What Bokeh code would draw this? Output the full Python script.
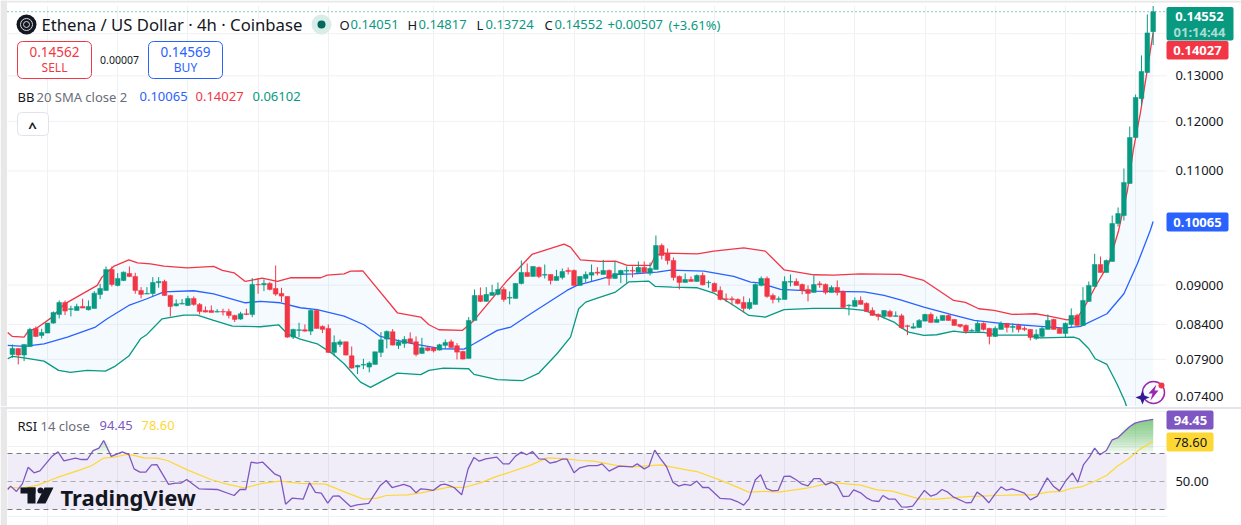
from bokeh.plotting import figure
from bokeh.layouts import column
from bokeh.core.properties import value
from bokeh.models import (Range1d, FixedTicker, Label, BoxAnnotation, PolyAnnotation)
from bokeh.embed import file_html
from bokeh.resources import INLINE

opens = [.07968,.08052,.07959,.08080,.08340,.08238,.08272,.08419,.08548,.08730,
.08624,.08608,.08669,.08619,.08639,.08854,.08916,.09251,.08995,.09074,
.09186,.09138,.08916,.08859,.08869,.09037,.09058,.08838,.08679,.08705,
.08684,.08792,.08700,.08608,.08608,.08583,.08593,.08593,.08533,.08478,
.08558,.08548,.09010,.09005,.09026,.08947,.08869,.08823,.08214,.08311,
.08321,.08301,.08608,.08370,.08340,.07996,.08109,.08147,.07949,.07793,
.07820,.07793,.07829,.07996,.08185,.08292,.08095,.08123,.08190,.08147,
.07982,.08061,.08061,.08029,.08095,.08147,.08090,.08010,.07912,.08458,
.08838,.08746,.08838,.08854,.08932,.08797,.08792,.09026,.09202,.09138,
.09283,.09159,.09170,.09074,.09122,.09235,.09235,.08995,.09106,.09159,
.09207,.09170,.09235,.09106,.09170,.09224,.09235,.09202,.09283,.09191,
.09251,.09649,.09514,.09398,.09138,.09042,.09090,.09058,.09154,.09037,
.09026,.08916,.08787,.08787,.08776,.08730,.08639,.08700,.08995,.09106,
.08838,.08776,.08776,.09047,.09058,.09010,.08932,.08885,.09021,.09010,
.08885,.08963,.08900,.08679,.08669,.08761,.08715,.08608,.08548,.08518,
.08593,.08518,.08528,.08379,.08345,.08355,.08448,.08548,.08429,.08458,
.08533,.08473,.08399,.08384,.08301,.08296,.08414,.08340,.08224,.08326,
.08414,.08355,.08384,.08340,.08326,.08195,.08224,.08326,.08473,.08340,
.08267,.08399,.08533,.08384,.08746,.08979,.09332,.09202,.09382,.10029,
.10171,.10760,.11666,.12493,.13078,.14051]
highs = [.08109,.08052,.08109,.08350,.08370,.08335,.08419,.08593,.08761,.08761,
.08679,.08710,.08787,.08761,.08905,.09021,.09300,.09300,.09191,.09218,
.09300,.09197,.08968,.08968,.09127,.09127,.09085,.08849,.08776,.08782,
.08833,.08823,.08720,.08669,.08684,.08629,.08634,.08634,.08543,.08588,
.08634,.09111,.09111,.09090,.09047,.09316,.08958,.08823,.08335,.08424,
.08399,.08629,.08619,.08384,.08399,.08238,.08180,.08147,.08080,.07824,
.07907,.07870,.08005,.08287,.08311,.08331,.08180,.08228,.08282,.08224,
.08204,.08085,.08075,.08118,.08180,.08180,.08128,.08019,.08508,.08932,
.08963,.08968,.09005,.09042,.08968,.08900,.09026,.09398,.09349,.09300,
.09300,.09332,.09170,.09245,.09267,.09283,.09251,.09138,.09218,.09332,
.09289,.09409,.09251,.09382,.09245,.09300,.09300,.09382,.09382,.09365,
.09820,.09683,.09598,.09448,.09154,.09186,.09138,.09170,.09202,.09074,
.09042,.08979,.08869,.08823,.08792,.08823,.08792,.09026,.09138,.09138,
.08869,.08823,.09138,.09170,.09106,.09026,.08995,.09154,.09063,.09026,
.08995,.09074,.08916,.08700,.08807,.08823,.08730,.08654,.08563,.08608,
.08619,.08593,.08558,.08394,.08419,.08478,.08558,.08578,.08518,.08533,
.08548,.08473,.08399,.08399,.08335,.08458,.08429,.08350,.08370,.08444,
.08414,.08414,.08409,.08370,.08326,.08326,.08370,.08548,.08483,.08355,
.08429,.08639,.08558,.08968,.09058,.09509,.09464,.09415,.10171,.10316,
.11047,.11894,.12581,.13475,.14480,.14817]
lows = [.07921,.07829,.07875,.08071,.08214,.08195,.08272,.08409,.08488,.08538,
.08518,.08608,.08644,.08608,.08639,.08782,.08916,.08979,.08979,.09063,
.09127,.08864,.08792,.08859,.08823,.08958,.08833,.08518,.08669,.08700,
.08679,.08679,.08548,.08578,.08578,.08578,.08533,.08488,.08434,.08468,
.08538,.08508,.08864,.08905,.08916,.08833,.08735,.08204,.08185,.08214,
.08292,.08243,.08340,.08272,.07987,.07940,.08071,.07954,.07770,.07698,
.07765,.07720,.07829,.07931,.08052,.08095,.08043,.08061,.08118,.07940,
.07977,.08010,.07996,.08024,.08048,.08061,.07898,.07898,.07912,.08458,
.08735,.08746,.08838,.08838,.08741,.08700,.08792,.09010,.09138,.09138,
.09111,.09106,.09010,.09074,.09090,.09170,.08990,.08995,.09042,.09063,
.09154,.09170,.08995,.09106,.09031,.09037,.09122,.09202,.09202,.09154,
.09251,.09415,.09332,.09074,.08932,.09042,.09058,.09058,.08995,.08958,
.08895,.08761,.08735,.08689,.08700,.08578,.08619,.08700,.08979,.08802,
.08715,.08730,.08776,.08979,.08995,.08854,.08746,.08885,.08958,.08854,
.08885,.08838,.08639,.08533,.08669,.08700,.08583,.08528,.08458,.08488,
.08503,.08518,.08335,.08243,.08335,.08350,.08448,.08424,.08429,.08458,
.08453,.08379,.08350,.08262,.08296,.08292,.08311,.08109,.08214,.08326,
.08282,.08282,.08282,.08301,.08166,.08175,.08204,.08326,.08326,.08267,
.08214,.08360,.08384,.08384,.08741,.08979,.09202,.09202,.09382,.09977,
.10082,.10760,.11666,.12341,.13078,.13724]
closes = [.08052,.07959,.08109,.08326,.08224,.08282,.08419,.08578,.08730,.08598,
.08634,.08669,.08644,.08669,.08874,.08947,.09251,.09010,.09106,.09207,
.09138,.08916,.08854,.08869,.09042,.09058,.08838,.08669,.08710,.08715,
.08792,.08700,.08593,.08583,.08578,.08593,.08583,.08533,.08473,.08558,
.08548,.09010,.09005,.09026,.08932,.08859,.08828,.08214,.08326,.08321,
.08301,.08608,.08340,.08326,.07996,.08137,.08147,.07959,.07779,.07815,
.07829,.07848,.08005,.08175,.08296,.08100,.08147,.08180,.08132,.07968,
.08061,.08024,.08019,.08104,.08137,.08066,.08000,.07903,.08458,.08838,
.08746,.08854,.08885,.08932,.08776,.08807,.09026,.09202,.09138,.09300,
.09138,.09170,.09074,.09138,.09218,.09218,.08995,.09138,.09170,.09202,
.09191,.09235,.09106,.09186,.09235,.09235,.09224,.09283,.09202,.09267,
.09649,.09481,.09398,.09122,.09042,.09090,.09058,.09154,.09005,.09042,
.08900,.08776,.08776,.08771,.08715,.08639,.08730,.09010,.09106,.08823,
.08776,.08787,.09058,.09058,.08995,.08916,.08869,.09010,.09005,.08885,
.08963,.08885,.08654,.08689,.08761,.08700,.08593,.08533,.08518,.08608,
.08518,.08528,.08350,.08370,.08365,.08458,.08548,.08429,.08473,.08533,
.08458,.08384,.08370,.08296,.08311,.08414,.08326,.08224,.08340,.08414,
.08355,.08370,.08326,.08326,.08209,.08253,.08340,.08458,.08326,.08267,
.08414,.08533,.08384,.08761,.08995,.09332,.09202,.09398,.10029,.10207,
.10779,.11666,.12516,.13100,.14020,.14552]

upper_x = [-.8,0,2,2.8,4,6.8,8.8,14.5,15.3,17.3,19.9,21.4,23.6,25.9,29.9,34.4,35.9,37.9,39.8,42.7,45.3,47.5,49.2,
52.7,53.8,56.7,57.8,59.9,65.8,69.8,71.2,72.9,76.9,78.9,84.6,88.8,94.3,95.4,97.1,100.5,
103.1,105.1,109.1,109.9,111.3,117.1,119.9,125,128.7,131.9,137,140.4,144.9,151.8,
155.8,160.9,162.9,165.2,167.8,170.9,174.9,177.4,180.3,182,183.1,185.4,187.4,189.1,190.6,191.6,192.8,193.9,195]
upper_y = [.08282,.08224,.08214,.08311,.08335,.08508,.08700,.08995,.09127,.09300,.09409,.09360,.09343,.09305,.09278,.09300,.09235,.09197,.09058,.09111,.09058,.09117,.09117,
.09117,.09159,.09181,.09224,.09229,.08573,.08508,.08394,.08321,.08311,.08458,.09074,.09498,.09672,.09620,.09409,.09382,
.09387,.09316,.09316,.09481,.09520,.09509,.09554,.09609,.09554,.09245,.09165,.09159,.09181,.09170,
.09074,.08761,.08730,.08634,.08608,.08548,.08558,.08518,.08468,.08498,.08634,.09021,.09343,.09907,.10628,.11403,.12169,.13055,.14027]
basis_x = [-.8,2,5.4,9.4,14.2,16.2,19.9,23,25.9,31,34.4,39.8,42.4,45.8,49.2,
52.1,56.7,60.1,62.9,65.8,68.6,73.2,77.2,78.9,82.9,85.2,88.6,94.8,96.5,100.5,
103.4,106.2,110.2,112.5,118.2,123.3,126.2,127.6,131.3,137,145.6,149,151.8,
155.8,160.4,164.4,169,174.6,179.7,182.6,187.1,190,192.3,194.5,195]
basis_y = [.08095,.08080,.08118,.08214,.08360,.08483,.08684,.08787,.08895,.08911,.08864,.08725,.08746,.08725,.08649,
.08619,.08523,.08394,.08224,.08166,.08118,.08048,.08043,.08118,.08311,.08360,.08558,.08916,.08995,.09095,
.09170,.09181,.09207,.09240,.09224,.09138,.09047,.09037,.08932,.08905,.08895,.08838,.08771,
.08659,.08548,.08458,.08414,.08379,.08345,.08370,.08558,.08864,.09343,.09907,.10065]
lower_x = [-.8,0,2,5.4,7.9,9.9,12.8,15.9,17.6,19.9,21.9,23,25.6,29.3,31.6,34.4,37.6,42.4,45.5,47,49.2,
52.1,54.9,56.7,59.5,61.2,65.8,69.8,71.2,73.7,78,78.9,82.9,87.2,90,93.1,95.4,96.8,98,100.5,
103.1,105.4,108.8,109.9,112.8,117.1,119.9,123.3,125.9,128.7,131.9,137,142.1,145.6,148.4,150.7,151.8,
153.2,155.8,158,160.9,162.6,166,168.3,173.5,175.7,181.4,182.3,184,185.1,187.1,188.8,190.1,190.5,195]
lower_y = [.07907,.07940,.07921,.07875,.07747,.07720,.07747,.07738,.07806,.07945,.08190,.08253,.08483,.08538,.08538,.08458,.08375,.08365,.08394,.08262,.08185,
.08118,.07968,.07838,.07590,.07520,.07711,.07689,.07747,.07779,.07770,.07693,.07622,.07608,.07711,.07977,.08214,.08634,.08735,.08812,
.08890,.09052,.09063,.08979,.08968,.08958,.08875,.08684,.08533,.08508,.08619,.08639,.08639,.08608,.08518,.08434,.08360,
.08287,.08238,.08248,.08301,.08282,.08282,.08243,.08243,.08204,.08214,.08190,.08048,.07907,.07829,.07567,.07348,.07263,.06102]

rsi_x = [-.8,-.3,.7,1.7,2.7,3.7,4.7,6.8,7.8,8.8,10.8,11.8,12.8,13.8,14.8,15.6,16.9,18.8,19.9,20.8,21.8,22.8,23.8,24.7,26.7,27.9,28.8,29.8,31.9,35,37.9,38.9,39.9,40.8,41.8,42.8,44.8,45.8,46.7,47.8,49.7,50.8,51.8,52.8,53.9,54.8,55.8,57.8,58.9,60.9,62.9,63.9,64.9,66.9,68,69,69.8,
70.8,71.9,73.2,73.9,74.6,75.5,76.8,77.9,78.9,79.8,80.9,82.8,83.9,84.9,86,87,87.9,88.9,90,91,91.9,93,94,94.8,96,97,98.5,100,100.8,102,103.7,106,106.8,108,108.8,109.8,110.8,111.8,112.9,113.9,114.9,115.9,117,118,119,121,122.8,123.9,125,125.9,127,127.9,128.9,129.9,130.9,131.9,132.9,133.9,135,136,137,138,139,140.1,141,
142,143,143.8,145,146.1,146.9,148.1,148.8,149.8,150.9,152,152.9,153.9,155.9,157,158,158.9,159.9,160.9,163,163.9,164.9,165.9,166.9,168,169,169.9,170.9,173,174,175.2,176.9,178,179,180.1,181.2,182.1,183.1,184.1,185,185.9,187,188,189,191,191.9,193,194.2,195]
rsi_y = [44.3,46.7,42.9,48.3,60.2,56.2,57.6,68.1,71.2,64.8,66.7,65.7,65.7,72.1,73.8,79.3,67.9,71.2,69.3,59.0,56.7,56.7,61.9,62.1,47.9,48.8,48.8,51.4,44.8,44.3,40,44.3,44.3,63.8,63.1,63.8,55.5,53.6,33.8,38.1,37.4,49.1,42.2,41.7,34.5,39.5,39.8,32.1,33.3,34.3,47.2,50.7,45.7,47.9,46.4,41.9,44.8,
44.3,43.6,47.6,48.1,47.2,45.7,40.5,59.0,67.2,64.5,66.2,67.4,62.6,62.6,68.1,71,69.1,71.4,66.2,66,63.1,64.1,66,66,56.2,59.8,61.4,61.4,62.6,57.4,61,60.5,62.6,59,60.7,72.4,66.2,60.7,49.5,46.7,47.9,47.2,50.3,45.7,45.7,37.9,37.4,35.7,33.1,37.6,51.2,54.8,45,43.3,43.6,53.6,53.8,51.4,48.1,46.9,52.1,52.1,47.6,49.5,47.2,
39.3,39.5,44,41.9,38.1,36.4,35.7,40,37.4,37.4,31.9,31.7,32.4,43.6,39.5,41,44.3,42.4,38.8,34.8,35,42.4,39.5,34.8,41.2,46.2,43.8,44.8,41.7,36.9,39.5,52.6,46.4,43.3,50.7,56.2,49.5,62.1,67.4,73.8,69.1,72.1,79.8,81.4,89.3,91.7,92.9,93.8,94.45]
rsi_ma_x = [-.8,1.4,4.2,7.7,11.6,13.6,15.6,17.3,19.6,20.8,22.5,24.7,26.5,29.9,33.9,36.7,39.6,43,45.8,49.2,53.5,57.2,60,62.3,63.9,67.5,69.8,
72,74.6,77.2,80,82.9,84.6,88.6,91.4,94.3,97.1,99.4,103.4,106.2,110.8,114.8,117,121,123.9,125.9,128.4,131,135.8,139.8,141.6,
145,147.8,150.4,155,158,163.2,168.3,172.3,174.6,176.9,179.4,180.9,182.9,184.8,187.1,188.8,190.8,192.8,195]
rsi_ma_y = [45.9,45.2,47.2,52.9,58.3,61.4,66.7,67.4,69.3,68.6,66.9,66.7,65,58.3,51.4,48.1,45.5,48.8,50.2,48.6,48.1,41.9,37.4,38.1,40,40.5,41.9,
43.6,46,45.7,49,53.8,56,61.7,66.9,66.4,65,64.5,61.4,60.5,61.9,58.6,57.1,51,46,42.4,42.9,42.4,45.2,49,48.6,
47.4,44,43.1,37.6,37.4,39.2,40,40.5,40.5,42.4,42.9,45,46.4,49.8,54.5,60.7,66.3,73.3,78.6]

price_ticks = [.074,.079,.084,.09,.11,.12,.13]
price_grid = [.074,.079,.084,.09,.11,.12,.13,.14]
time_grid = [6,18,30,42,54,72,84,96,108,120,132,144,156,168,180,192]
rsi_grid = [25,75,100]
rsi_ticks = [50]

UP, DOWN, BLUE, PURPLE, YELLOW = "#089981", "#f23645", "#2962ff", "#7e57c2", "#fdd835"
GRID = "#f0f1f4"
INK, MUTED = "#131722", "#6a6d78"
FONT = "Noto Sans"
W = 1241
X_RANGE = (-2.034, 210.1)
PANE_L, PANE_R, TICK_X = -.838, 197.3, 198.8
T_H, R_H = 406, 119


def make(height, y_range, **kw):
    p = figure(width=W, height=height, x_range=Range1d(*X_RANGE), y_range=y_range, output_backend="svg",
               toolbar_location=None, min_border=0, outline_line_color=None, **kw)
    p.xaxis.visible = False
    p.yaxis.visible = False
    p.ygrid.visible = False
    p.xgrid.ticker = FixedTicker(ticks=time_grid)
    p.xgrid.grid_line_color = GRID
    return p


def h_rules(p, levels, color=GRID, **kw):
    n = len(levels)
    p.segment([PANE_L] * n, levels, [PANE_R] * n, levels, line_color=color, line_width=1, **kw)


def tick_labels(p, levels, fmt):
    p.text([TICK_X] * len(levels), levels, text=[fmt % v for v in levels], text_color=INK,
           text_font=value(FONT), text_font_size="13px", text_baseline="middle", text_align="left")


def lab(p, off, text, px, py, color=INK, size=13, weight="normal", align="left"):
    p.add_layout(Label(x=px, y=py - off, x_units="canvas", y_units="canvas", text=text, text_color=color,
                       text_font=FONT, text_font_size=f"{size}px", text_font_style=weight, text_align=align,
                       text_baseline="middle", level="overlay"))


def box(p, off, l, t, r, b, fill=None, line=None, radius=0, lw=1):
    p.add_layout(BoxAnnotation(left=l, right=r, top=t - off, bottom=b - off, left_units="canvas",
                               right_units="canvas", top_units="canvas", bottom_units="canvas",
                               fill_color=fill, fill_alpha=1 if fill else 0, line_color=line,
                               line_alpha=1 if line else 0, line_width=lw, border_radius=radius, level="overlay"))


def poly(p, xs, ys, color):
    p.add_layout(PolyAnnotation(xs=xs, ys=ys, xs_units="canvas", ys_units="canvas", fill_color=color,
                                fill_alpha=1, line_color=None, level="overlay"))


# ---- price pane
top = make(T_H, Range1d(.07271, .14841), y_axis_type="log")
h_rules(top, price_grid)
tick_labels(top, price_ticks, "%.5f")

top.patch(upper_x + lower_x[::-1], upper_y + lower_y[::-1], fill_color="#2196f3", fill_alpha=.05, line_color=None)
top.line(upper_x, upper_y, line_color=DOWN, line_width=1.3)
top.line(basis_x, basis_y, line_color=BLUE, line_width=1.3)
top.line(lower_x, lower_y, line_color=UP, line_width=1.3)

idx = list(range(len(opens)))
colors = [UP if c >= o else DOWN for o, c in zip(opens, closes)]
top.segment(idx, highs, idx, lows, line_color=colors, line_width=1)
top.vbar(idx, .8, [max(o, c) for o, c in zip(opens, closes)], [min(o, c) for o, c in zip(opens, closes)],
         fill_color=colors, line_color=colors, line_width=.5)
top.segment([PANE_L], [closes[-1]], [PANE_R], [closes[-1]], line_color=UP, line_dash="1 3", line_width=1)

o = 0
box(top, o, 0, 2, 1241, 5.5, fill="#ffffff")
box(top, o, 0, 0, 1241, 2, fill="#e8e8e8")
box(top, o, 0, 0, 6.5, 406, fill="#e8e8e8")
box(top, o, 16, 14, 36, 34, fill="#131722", radius=10)
box(top, o, 20, 18, 32, 30, line="#d8d8d8", radius=6)
box(top, o, 23, 21, 29, 27, line="#d8d8d8", radius=3)
lab(top, o, "Ethena / US Dollar · 4h · Coinbase", 41, 24, size=16.7)
box(top, o, 311, 14, 331, 34, fill="#d8ece8", radius=10)
box(top, o, 317, 20, 325, 28, fill="#00695c", radius=4)
lab(top, o, "O", 339, 24)
lab(top, o, "0.14051", 350, 24, UP)
lab(top, o, "H", 407, 24)
lab(top, o, "0.14817", 418, 24, UP)
lab(top, o, "L", 476, 24)
lab(top, o, "0.13724", 485, 24, UP)
lab(top, o, "C", 544, 24)
lab(top, o, "0.14552", 554, 24, UP)
lab(top, o, "+0.00507", 607, 24, UP)
lab(top, o, "(+3.61%)", 668, 24, UP)

box(top, o, 17, 41, 91, 78, fill="#ffffff", line=DOWN, radius=5)
lab(top, o, "0.14562", 54, 51, DOWN, 13.5, align="center")
lab(top, o, "SELL", 54, 67, DOWN, 12, align="center")
lab(top, o, "0.00007", 119, 59, INK, 10.5, align="center")
box(top, o, 148, 41, 222, 78, fill="#ffffff", line=BLUE, radius=5)
lab(top, o, "0.14569", 185, 51, BLUE, 13.5, align="center")
lab(top, o, "BUY", 185, 67, BLUE, 12, align="center")

lab(top, o, "BB", 17, 96)
lab(top, o, "20 SMA close 2", 36, 96, MUTED)
lab(top, o, "0.10065", 139, 96, BLUE)
lab(top, o, "0.14027", 195, 96, DOWN)
lab(top, o, "0.06102", 252, 96, UP)
box(top, o, 17, 112, 48, 135, fill="#ffffff", line="#e0e3eb", radius=4)
lab(top, o, "^", 32, 126, INK, 15, "bold", "center")

box(top, o, 1166, 6.5, 1233, 40, fill=UP, radius=2)
lab(top, o, "0.14552", 1199, 16, "#ffffff", 13, "bold", "center")
lab(top, o, "01:14:44", 1199, 31, "#a8dcd2", 13, "bold", "center")
box(top, o, 1166, 40.5, 1228, 59, fill=DOWN, radius=2)
lab(top, o, "0.14027", 1197, 50, "#ffffff", 13, "bold", "center")
box(top, o, 1166, 212, 1228, 231, fill=BLUE, radius=2)
lab(top, o, "0.10065", 1197, 222, "#ffffff", 13, "bold", "center")

box(top, o, 1142, 381, 1164, 403, line="#9c27b0", radius=11, lw=1.5)
poly(top, [1156, 1148, 1152, 1150, 1158, 1154], [384, 393, 393, 400, 390, 390], "#9c27b0")
poly(top, [1142, 1144, 1149, 1144, 1142, 1140, 1135, 1140], [390, 395, 397, 399, 404, 399, 397, 395], "#311b92")
box(top, o, 1158, 382, 1164, 388, fill=DOWN, radius=3)

# ---- RSI pane
rsi = make(R_H, Range1d(18.57, 103.57))
h_rules(rsi, rsi_grid)
tick_labels(rsi, rsi_ticks, "%.2f")
rsi.quad(left=[PANE_L], right=[PANE_R], bottom=[30], top=[70], fill_color=PURPLE, fill_alpha=.11, line_color=None)
for lvl in range(70, 96, 2):
    rsi.varea(rsi_x, [lvl] * len(rsi_x), [max(lvl, v) for v in rsi_y], fill_color="#4caf50", fill_alpha=.08)
for lvl, alpha in ((70, 1), (50, .6), (30, 1)):
    rsi.segment([PANE_L], [lvl], [PANE_R], [lvl], line_color="#787b86", line_dash="5 4", line_width=1, line_alpha=alpha)
rsi.line(rsi_ma_x, rsi_ma_y, line_color=YELLOW, line_width=1.2)
rsi.line(rsi_x, rsi_y, line_color=PURPLE, line_width=1.3)

r = T_H
box(rsi, r, 0, 406, 6.5, 525, fill="#e8e8e8")
box(rsi, r, 0, 406.5, 1241, 408.5, fill="#e4e5e9")
lab(rsi, r, "RSI", 17, 425)
lab(rsi, r, "14 close", 40, 425, MUTED)
lab(rsi, r, "94.45", 99, 425, PURPLE)
lab(rsi, r, "78.60", 141, 425, YELLOW)
box(rsi, r, 1166, 410, 1213, 429, fill=PURPLE, radius=2)
lab(rsi, r, "94.45", 1190, 420, "#ffffff", 13, "bold", "center")
box(rsi, r, 1166, 432, 1213, 451, fill=YELLOW, radius=2)
lab(rsi, r, "78.60", 1190, 442, INK, 13, "normal", "center")
# TradingView mark
box(rsi, r, 20, 487, 35, 493, fill="#131722")
box(rsi, r, 27, 487, 35, 503, fill="#131722")
box(rsi, r, 37, 487, 43, 493, fill="#131722", radius=3)
poly(rsi, [44, 53, 45, 36], [81, 81, 97, 97], "#131722")
lab(rsi, r, "TradingView", 60, 496, "#131722", 22, "bold")

page = column(top, rsi, spacing=0)
open("out.html", "w").write(file_html(page, INLINE))
